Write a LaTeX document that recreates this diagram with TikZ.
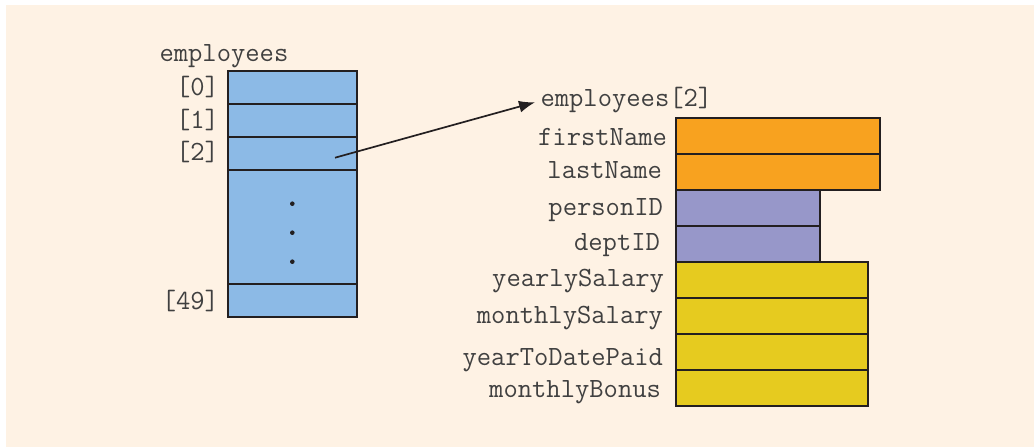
\documentclass[tikz,border=0pt]{standalone}
\usetikzlibrary{arrows.meta}
\definecolor{bg}{HTML}{FEF2E4}
\definecolor{cellblue}{HTML}{8CBAE6}
\definecolor{orng}{HTML}{F8A21F}
\definecolor{purp}{HTML}{9797C9}
\definecolor{yell}{HTML}{E6CB1F}
\definecolor{txt}{HTML}{404040}
\definecolor{edge}{HTML}{231F20}
\begin{document}
\begin{tikzpicture}[x=1pt,y=-1pt,
  cell/.style={draw=edge, line width=1.3pt, inner sep=0pt, outer sep=0pt, anchor=north west},
  lbl/.style={inner sep=0pt, outer sep=0pt, text=txt, font=\fontsize{27.8}{30}\selectfont\ttfamily},
  rl/.style={lbl, anchor=base east},
  ll/.style={lbl, anchor=base west},
  dotmark/.style={circle, fill=edge, inner sep=0pt, minimum size=4.6pt},
  ptr/.style={draw=edge, line width=1.7pt, -{Latex[length=16pt,width=12pt]}}]
\useasboundingbox (0,0) rectangle (1034,447);
\fill[bg] (6,5) rectangle (1034,447);

% left array
\node[ll] (arrname) at (159.5,61.7) {employees};
\node[cell, fill=cellblue, minimum width=129pt, minimum height=33pt] (c0) at (228,71) {};
\node[cell, fill=cellblue, minimum width=129pt, minimum height=33pt] (c1) at (228,104) {};
\node[cell, fill=cellblue, minimum width=129pt, minimum height=33pt] (c2) at (228,137) {};
\node[cell, fill=cellblue, minimum width=129pt, minimum height=114pt] (cdots) at (228,170) {};
\node[cell, fill=cellblue, minimum width=129pt, minimum height=33pt] (c49) at (228,284) {};
\node[rl] (i0) at (219,95) {[0]};
\node[rl] (i1) at (219,128) {[1]};
\node[rl] (i2) at (219,160.7) {[2]};
\node[rl] (i49) at (219,309.5) {[49]};
\node[dotmark] (d1) at (292.3,203.7) {};
\node[dotmark] (d2) at (292.3,232.7) {};
\node[dotmark] (d3) at (292.3,261.7) {};

% struct
\node[ll] (sname) at (540.5,106) {employees[2]};
\node[cell, fill=orng, minimum width=204pt, minimum height=36pt] (f1) at (676,118) {};
\node[cell, fill=orng, minimum width=204pt, minimum height=36pt] (f2) at (676,154) {};
\node[cell, fill=purp, minimum width=144pt, minimum height=36pt] (f3) at (676,190) {};
\node[cell, fill=purp, minimum width=144pt, minimum height=36pt] (f4) at (676,226) {};
\node[cell, fill=yell, minimum width=192pt, minimum height=36pt] (f5) at (676,262) {};
\node[cell, fill=yell, minimum width=192pt, minimum height=36pt] (f6) at (676,298) {};
\node[cell, fill=yell, minimum width=192pt, minimum height=36pt] (f7) at (676,334) {};
\node[cell, fill=yell, minimum width=192pt, minimum height=36pt] (f8) at (676,370) {};
\node[rl] (n1) at (667,145) {firstName};
\node[rl] (n2) at (662,178.3) {lastName};
\node[rl] (n3) at (663,215) {personID};
\node[rl] (n4) at (660,250) {deptID};
\node[rl] (n5) at (664,286.7) {yearlySalary};
\node[rl] (n6) at (663,323) {monthlySalary};
\node[rl] (n7) at (663,365) {yearToDatePaid};
\node[rl] (n8) at (661,397.7) {monthlyBonus};

% pointer
\coordinate (src) at (335,157.7);
\coordinate (tip) at (535,102.3);
\draw[ptr] (src) -- (tip);
\end{tikzpicture}
\end{document}
